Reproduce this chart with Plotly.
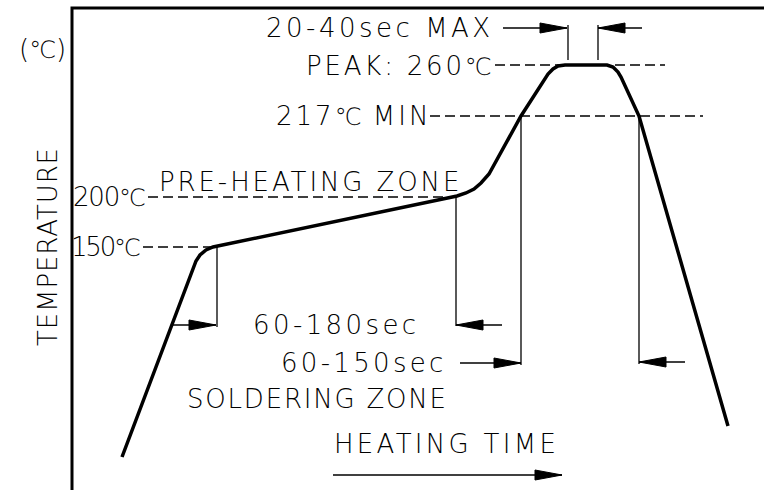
import plotly.graph_objects as go

# ---- schematic data (diagram units: x = heating time, y = position, top = hotter) ----
profile_x = [122, 193, 196, 200, 206, 213, 457, 466, 474, 481, 489, 521, 548, 553, 558, 565, 607, 613, 618, 621, 639, 728]
profile_y = [457, 268, 261, 255, 250, 247, 196, 193, 189, 183, 174, 116, 74, 69, 66, 65, 65, 67, 72, 77, 116, 426]

# frame (temperature axis + top border)
frame_x = [72, 72, 764]
frame_y = [490, 8, 8]

# dashed temperature reference lines
ref_y = [247, 197, 116, 65]
ref_x0 = [143, 148, 430, 495]
ref_x1 = [213, 457, 703, 665]

# vertical extension lines
ext_x = [217, 456, 521, 639, 568, 598]
ext_y0 = [247, 197, 116, 116, 25, 25]
ext_y1 = [327, 326, 365, 364, 60, 60]

# dimension arrows (tail x, tip x, y)
arr_tail = [503, 642, 173, 502, 460, 685, 333]
arr_tip = [567, 598, 216, 456, 521, 639, 562]
arr_y = [28, 28, 325, 325, 363, 362, 475]

# labels (text before the degree sign, and whether a ℃ follows it)
lab_text = ["(", "20-40sec MAX", "PEAK: 260", "217", "PRE-HEATING ZONE",
            "200", "150", "60-180sec", "60-150sec", "SOLDERING ZONE", "HEATING TIME"]
lab_tail = [")", "", "", " MIN", "", "", "", "", "", "", ""]
lab_deg = [True, False, True, True, False, True, True, False, False, False, False]
lab_x = [42, 380, 494, 433, 310, 148, 143, 336, 364, 317, 446]
lab_y = [49, 28, 66, 116, 182, 197, 247, 325, 363, 399, 444]
lab_anchor = ["center", "center", "right", "right", "center", "right", "right", "center", "center", "center", "center"]
lab_spacing = [0, 3.5, 2.8, 3.0, 2.9, -1.2, -2.2, 3.4, 3.3, 1.8, 3.3]
axis_title = "TEMPERATURE"

FONT = "DejaVu Sans"


def styled(s, ls):
    return "<span style='letter-spacing:%.1fpx'>%s</span>" % (ls, s) if s else ""


DEG = "<span style='font-size:24px'>℃</span>"

fig = go.Figure()

fig.add_trace(go.Scatter(x=frame_x, y=frame_y, mode="lines",
                         line=dict(color="black", width=3), cliponaxis=False, hoverinfo="skip"))

# profile curve
fig.add_trace(go.Scatter(x=profile_x, y=profile_y, mode="lines",
                         line=dict(color="black", width=3.5), cliponaxis=False, hoverinfo="skip"))

# dashed reference lines
for y, a, b in zip(ref_y, ref_x0, ref_x1):
    fig.add_trace(go.Scatter(x=[a, b], y=[y, y], mode="lines",
                             line=dict(color="black", width=1.3, dash="10px,5px"), cliponaxis=False, hoverinfo="skip"))

# extension lines
for x, a, b in zip(ext_x, ext_y0, ext_y1):
    fig.add_trace(go.Scatter(x=[x, x], y=[a, b], mode="lines",
                             line=dict(color="black", width=1.3), cliponaxis=False, hoverinfo="skip"))

# arrows
HEAD_L, HEAD_W = 27, 5
for t, p, y in zip(arr_tail, arr_tip, arr_y):
    d = 1 if p > t else -1
    fig.add_trace(go.Scatter(x=[t, p], y=[y, y], mode="lines",
                             line=dict(color="black", width=1.3), cliponaxis=False, hoverinfo="skip"))
    hx = p - d * HEAD_L
    fig.add_trace(go.Scatter(x=[p, hx, hx, p], y=[y, y - HEAD_W, y + HEAD_W, y], mode="lines",
                             fill="toself", fillcolor="black", line=dict(color="black", width=1),
                             cliponaxis=False, hoverinfo="skip"))

for txt, tail, deg, x, y, anc, ls in zip(lab_text, lab_tail, lab_deg, lab_x, lab_y, lab_anchor, lab_spacing):
    html = styled(txt, ls) + (DEG if deg else "") + styled(tail, ls)
    fig.add_annotation(x=x, y=y, text=html, showarrow=False, xanchor=anc, yanchor="middle",
                       font=dict(family=FONT, size=26, weight=200, color="black"))

fig.add_annotation(x=48, y=247, text=styled(axis_title, 0.9), showarrow=False, textangle=-90,
                   xanchor="center", yanchor="middle", font=dict(family=FONT, size=26, weight=200, color="black"))

fig.update_layout(
    width=764, height=490, margin=dict(l=0, r=0, t=0, b=0),
    paper_bgcolor="white", plot_bgcolor="white", showlegend=False,
    xaxis=dict(range=[0, 764], visible=False),
    yaxis=dict(range=[490, 0], visible=False),
)

fig.write_html("out.html", config={"displayModeBar": False, "staticPlot": True},
               post_script="document.body.style.margin='0';document.body.style.overflow='hidden';")
